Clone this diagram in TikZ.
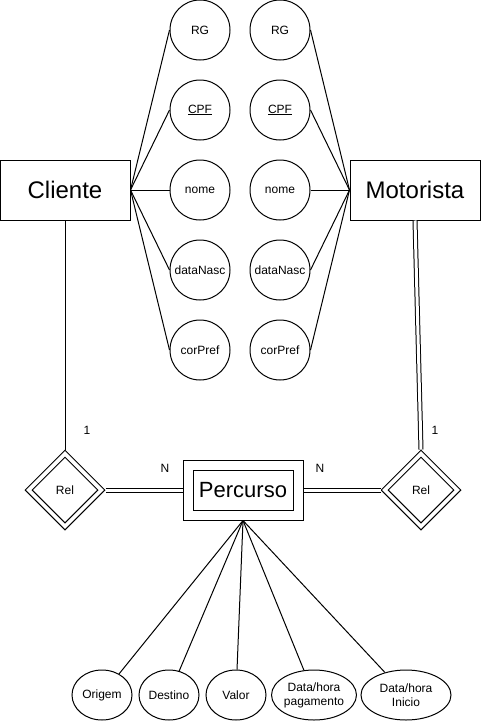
\documentclass[tikz,border=0pt]{standalone}
\usepackage{fontspec}
\setmainfont{Liberation Sans}
\usetikzlibrary{shapes.geometric}

\begin{document}
\begin{tikzpicture}[x=1pt, y=-1pt, line width=1pt,
    entity/.style={draw, minimum width=130pt, minimum height=60pt, inner sep=0pt, font=\fontsize{24}{28}\selectfont},
    attr/.style={draw, circle, minimum size=60pt, inner sep=0pt, font=\fontsize{12}{14}\selectfont},
    ellattr/.style={draw, ellipse, minimum height=50pt, inner sep=0pt, align=center, font=\fontsize{12}{14}\selectfont},
    rel/.style={draw, diamond, minimum width=80pt, minimum height=80pt, inner sep=0pt, aspect=1},
    relin/.style={draw, diamond, minimum width=66pt, minimum height=66pt, inner sep=0pt, aspect=1, font=\fontsize{12}{14}\selectfont},
    card/.style={font=\fontsize{12}{14}\selectfont},
    twoline/.style={double, double distance=3pt, line width=1pt}]

    % --- Bounding box (size of the reference) ---
    \useasboundingbox (0,0) rectangle (481,721);

    % --- Entities ---
    \node[entity] (Cli) at (65,190) {Cliente};
    \node[entity] (Mot) at (415,190) {Motorista};

    % Weak entity: outer and inner rectangle
    \node[draw, minimum width=120pt, minimum height=60pt] (Per) at (243,490) {};
    \node[draw, minimum width=100pt, minimum height=40pt, inner sep=0pt, font=\fontsize{22}{26}\selectfont] (Perin) at (243,490) {Percurso};

    % --- Attributes of Cliente (left column) ---
    \node[attr] (rgC) at (200,30) {RG};
    \node[attr] (cpfC) at (200,110) {\underline{CPF}};
    \node[attr] (nomeC) at (200,190) {nome};
    \node[attr] (nascC) at (200,270) {dataNasc};
    \node[attr] (corC) at (200,350) {corPref};

    % --- Attributes of Motorista (right column) ---
    \node[attr] (rgM) at (280,30) {RG};
    \node[attr] (cpfM) at (280,110) {\underline{CPF}};
    \node[attr] (nomeM) at (280,190) {nome};
    \node[attr] (nascM) at (280,270) {dataNasc};
    \node[attr] (corM) at (280,350) {corPref};

    % --- Attribute lines ---
    \foreach \a in {rgC, cpfC, nomeC, nascC, corC}
        \draw (Cli.east) -- (\a.west);
    \foreach \a in {rgM, cpfM, nomeM, nascM, corM}
        \draw (\a.east) -- (Mot.west);

    % --- Relationships (double diamonds) ---
    \node[rel] (RelC) at (65,490) {};
    \node[relin] (RelCin) at (65,490) {Rel};
    \node[rel] (RelM) at (421,490) {};
    \node[relin] (RelMin) at (421,490) {Rel};

    % --- Connectors ---
    \draw (Cli.south) -- (RelC.north);
    \draw[twoline] (RelC.east) -- (Per.west);
    \draw[twoline] (Per.east) -- (RelM.west);
    \draw[twoline] (Mot.south) -- (RelM.north);

    % --- Cardinalities ---
    \node[card] (c1) at (87,430) {1};
    \node[card] (n1) at (165,468) {N};
    \node[card] (n2) at (320,468) {N};
    \node[card] (c2) at (435,430) {1};

    % --- Attributes of Percurso ---
    \node[ellattr, minimum width=60pt] (ori) at (102,695) {Origem};
    \node[ellattr, minimum width=60pt] (des) at (169,695) {Destino};
    \node[ellattr, minimum width=60pt] (val) at (236,695) {Valor};
    \node[ellattr, minimum width=80pt] (pag) at (314,695) {Data/hora\\pagamento};
    \node[ellattr, minimum width=90pt] (ini) at (406,695) {Data/hora\\Inicio};

    \foreach \a in {ori, des, val, pag, ini}
        \draw (Per.south) -- (\a);

\end{tikzpicture}
\end{document}
